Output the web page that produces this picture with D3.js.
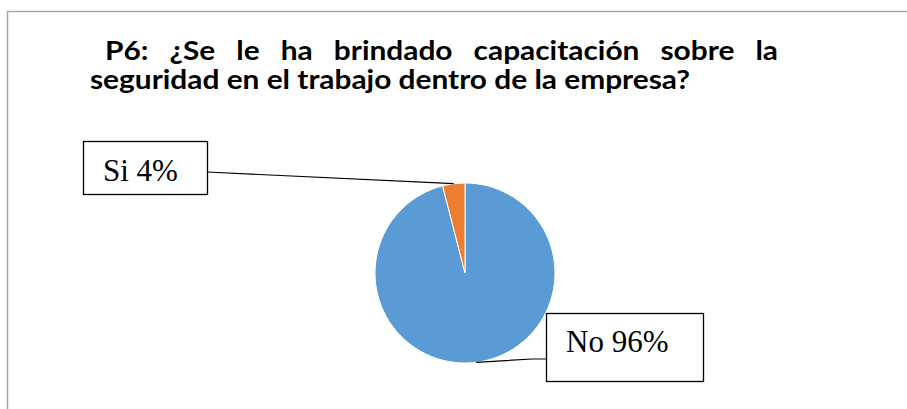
<!DOCTYPE html>
<html>
<head>
<meta charset="utf-8">
<script src="https://cdn.jsdelivr.net/npm/d3@7"></script>
<style>
  html, body { margin: 0; padding: 0; background: #fff; }
  svg { display: block; }
</style>
</head>
<body>
<div id="app"></div>
<script>
// datos
var categories = ['No', 'Si'];
var values = [96, 4];
var labels = ['No 96%', 'Si 4%'];
var colors = ['#5B9BD5', '#ED7D31'];
var titleLines = [
  'P6: ¿Se le ha brindado capacitación sobre la',
  'seguridad en el trabajo dentro de la empresa?'
];

var W = 907, H = 409;
var svg = d3.select('#app').append('svg')
  .attr('width', W).attr('height', H);

// marco del grafico
svg.append('path')
  .attr('d', 'M7.5,' + H + 'V11.5H' + W)
  .attr('fill', 'none')
  .attr('stroke', '#a6a6a6')
  .attr('stroke-width', 1.5);

// titulo (primera linea justificada), letras comprimidas tipo Calibri
var fs = 26;
var title = svg.append('g')
  .attr('font-family', 'Lato, "Open Sans", sans-serif')
  .attr('font-weight', 'bold')
  .attr('font-size', fs)
  .attr('fill', '#000');

var line2 = title.append('text')
  .attr('x', 90).attr('y', 89)
  .text(titleLines[1]);
var w2 = line2.node().getComputedTextLength();
var k = 600 / w2;
line2.attr('textLength', 600).attr('lengthAdjust', 'spacingAndGlyphs');

var words = titleLines[0].split(' ');
var x0 = 105, x1 = 778;
var wordNodes = words.map(function(w) {
  return title.append('text').attr('y', 59.5).text(w);
});
var widths = wordNodes.map(function(t) { return t.node().getComputedTextLength() * k; });
var gap = (x1 - x0 - d3.sum(widths)) / (words.length - 1);
var cx = x0;
wordNodes.forEach(function(t, i) {
  t.attr('x', cx)
    .attr('textLength', widths[i])
    .attr('lengthAdjust', 'spacingAndGlyphs');
  cx += widths[i] + gap;
});

// pastel
var center = [465, 273], r = 90;
var pie = d3.pie().sort(null).value(function(d) { return d; });
var arcs = pie(values);
var arc = d3.arc().innerRadius(0).outerRadius(r);

var g = svg.append('g').attr('transform', 'translate(' + center + ')');
g.selectAll('path').data(arcs).enter().append('path')
  .attr('d', arc)
  .attr('fill', function(d, i) { return colors[i]; })
  .attr('stroke', '#fff')
  .attr('stroke-width', 1);

// etiquetas con cajas
var boxes = [
  { x: 546, y: 313, w: 157, h: 68, tx: 566, ty: 352, lead: [[532, 359], [546, 359]] },
  { x: 83, y: 141, w: 124, h: 53, tx: 103, ty: 181, lead: [[207, 172]] }
];
var edge = d3.arc().innerRadius(r).outerRadius(r);

arcs.forEach(function(d, i) {
  var b = boxes[i];
  var p = edge.centroid(d);
  var pts = [[center[0] + p[0], center[1] + p[1]]].concat(b.lead);
  svg.append('path')
    .attr('d', d3.line()(pts))
    .attr('fill', 'none')
    .attr('stroke', '#000')
    .attr('stroke-width', 1.2);
  svg.append('rect')
    .attr('x', b.x + 0.5).attr('y', b.y + 0.5)
    .attr('width', b.w).attr('height', b.h)
    .attr('fill', '#fff')
    .attr('stroke', '#000')
    .attr('stroke-width', 1.3);
  svg.append('text')
    .attr('x', b.tx).attr('y', b.ty)
    .attr('font-family', '"Liberation Serif", "Times New Roman", serif')
    .attr('font-size', 31)
    .attr('fill', '#000')
    .text(labels[i]);
});
</script>
</body>
</html>
